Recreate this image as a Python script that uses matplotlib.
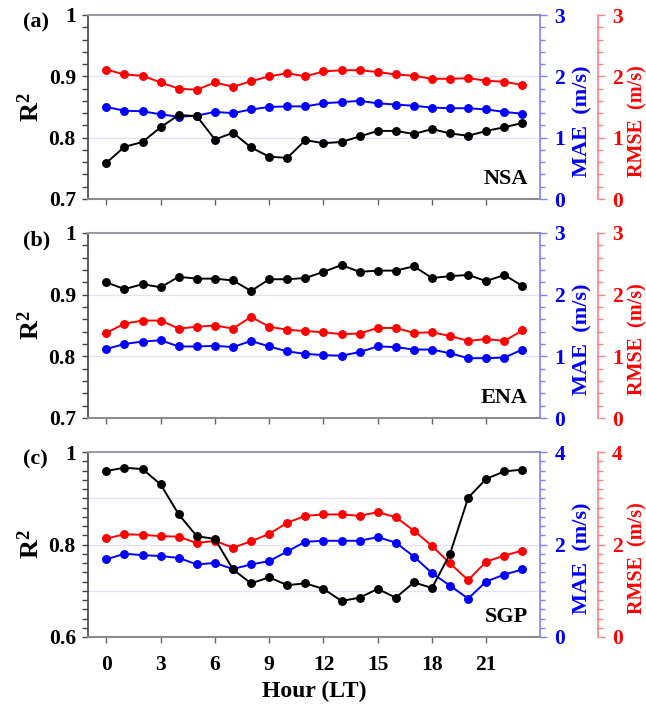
import matplotlib
matplotlib.use("Agg")
import matplotlib.pyplot as plt
from matplotlib.ticker import MultipleLocator

plt.rcParams['font.family'] = ['Liberation Serif', 'DejaVu Serif']
plt.rcParams['font.weight'] = 'bold'
plt.rcParams['mathtext.fontset'] = 'custom'
plt.rcParams['mathtext.rm'] = 'Liberation Serif:bold'
plt.rcParams['mathtext.it'] = 'Liberation Serif:bold'
plt.rcParams['mathtext.bf'] = 'Liberation Serif:bold'

hours = list(range(24))

nsa_r2 = [0.759, 0.785, 0.793, 0.817, 0.837, 0.835, 0.797, 0.808, 0.784, 0.769, 0.767, 0.796,
          0.791, 0.793, 0.802, 0.811, 0.811, 0.806, 0.814, 0.807, 0.803, 0.811, 0.817, 0.824]
nsa_mae = [1.50, 1.44, 1.43, 1.38, 1.34, 1.36, 1.42, 1.40, 1.46, 1.50, 1.51, 1.51,
           1.56, 1.58, 1.60, 1.56, 1.54, 1.52, 1.49, 1.48, 1.48, 1.46, 1.42, 1.39]
nsa_rmse = [2.11, 2.03, 2.01, 1.90, 1.80, 1.78, 1.90, 1.83, 1.92, 2.00, 2.05, 2.00,
            2.08, 2.10, 2.10, 2.07, 2.03, 2.01, 1.96, 1.96, 1.97, 1.93, 1.91, 1.86]

ena_r2 = [0.920, 0.909, 0.917, 0.912, 0.929, 0.926, 0.926, 0.923, 0.906, 0.925, 0.925, 0.927,
          0.937, 0.948, 0.937, 0.939, 0.939, 0.946, 0.927, 0.930, 0.932, 0.922, 0.932, 0.914]
ena_mae = [1.12, 1.20, 1.24, 1.26, 1.16, 1.16, 1.17, 1.15, 1.25, 1.16, 1.08, 1.04,
           1.02, 1.01, 1.07, 1.16, 1.15, 1.11, 1.11, 1.05, 0.97, 0.97, 0.98, 1.11]
ena_rmse = [1.38, 1.53, 1.58, 1.58, 1.45, 1.48, 1.50, 1.45, 1.64, 1.48, 1.43, 1.41,
            1.39, 1.36, 1.37, 1.46, 1.46, 1.38, 1.39, 1.33, 1.25, 1.28, 1.25, 1.42]

sgp_r2 = [0.959, 0.966, 0.963, 0.930, 0.865, 0.818, 0.812, 0.746, 0.716, 0.729, 0.712, 0.716,
          0.704, 0.678, 0.685, 0.704, 0.685, 0.718, 0.706, 0.780, 0.901, 0.942, 0.958, 0.962]
sgp_mae = [1.68, 1.80, 1.77, 1.75, 1.71, 1.57, 1.60, 1.47, 1.57, 1.64, 1.85, 2.06,
           2.08, 2.08, 2.08, 2.16, 2.04, 1.74, 1.38, 1.11, 0.83, 1.20, 1.35, 1.46]
sgp_rmse = [2.13, 2.22, 2.21, 2.18, 2.17, 2.03, 2.08, 1.93, 2.07, 2.23, 2.47, 2.62,
            2.65, 2.65, 2.62, 2.70, 2.59, 2.30, 1.97, 1.59, 1.23, 1.63, 1.76, 1.87]

panel_tags = ['(a)', '(b)', '(c)']
sites = ['NSA', 'ENA', 'SGP']
r2_data = [nsa_r2, ena_r2, sgp_r2]
mae_data = [nsa_mae, ena_mae, sgp_mae]
rmse_data = [nsa_rmse, ena_rmse, sgp_rmse]
r2_ticks = [[0.7, 0.8, 0.9, 1.0], [0.7, 0.8, 0.9, 1.0], [0.6, 0.8, 1.0]]
r2_ticklabels = [['0.7', '0.8', '0.9', '1'], ['0.7', '0.8', '0.9', '1'], ['0.6', '0.8', '1']]
r2_grid = [[0.8, 0.9], [0.8, 0.9], [0.7, 0.8, 0.9]]
err_max = [3, 3, 4]
err_ticks = [[0, 1, 2, 3], [0, 1, 2, 3], [0, 2, 4]]
x_ticks = [0, 3, 6, 9, 12, 15, 18, 21]

W, H = 646, 705
fig = plt.figure(figsize=(W / 100, H / 100), dpi=100)

# panel boxes in pixels: top, bottom
boxes = [(15, 199), (233, 418), (452, 637)]
left_px, right_px = 88.3, 540.5

blue = '#0000ff'
red = '#ff0000'
lblue = '#8080ff'
lred = '#ff8080'

for i in range(3):
    top, bot = boxes[i]
    ax = fig.add_axes([left_px / W, 1 - bot / H, (right_px - left_px) / W, (bot - top) / H])
    lo = 1.0 - err_max[i] / 10
    ax.set_xlim(-1, 24)
    ax.set_ylim(lo, 1.0)
    for g in r2_grid[i]:
        ax.axhline(g, color='#e0e0ff', lw=0.9, zorder=0)

    ax2 = ax.twinx()
    ax3 = ax.twinx()
    ax2.set_ylim(0, err_max[i])
    ax3.set_ylim(0, err_max[i])

    ax3.plot(hours, rmse_data[i], '-o', color=red, lw=1.4, ms=5.4)
    ax2.plot(hours, mae_data[i], '-o', color=blue, lw=1.4, ms=5.4)
    # R2 drawn last so it sits on top
    ax4 = ax.twinx()
    ax4.set_ylim(lo, 1.0)
    ax4.plot(hours, r2_data[i], '-o', color='black', lw=1.4, ms=5.4)
    ax4.axis('off')

    # left axis
    ax.set_yticks(r2_ticks[i])
    ax.set_yticklabels(r2_ticklabels[i])
    ax.yaxis.set_minor_locator(MultipleLocator(0.02))
    ax.tick_params(axis='y', which='both', direction='out', length=4, width=1,
                   color='#444444', labelsize=15.5, pad=5)
    ax.set_xticks(x_ticks)
    ax.tick_params(axis='x', direction='out', length=4, width=1, color='#666666',
                   labelsize=15.5, pad=9)
    if i < 2:
        ax.set_xticklabels([])
    ax.spines['left'].set_color('#444444')
    ax.spines['left'].set_linewidth(1.2)
    ax.spines['top'].set_color('#9a9aa6')
    ax.spines['top'].set_linewidth(1.5)
    ax.spines['bottom'].set_color('#8c8c8c')
    ax.spines['bottom'].set_linewidth(1.5)
    ax.spines['right'].set_visible(False)

    # MAE axis
    for s in ['left', 'top', 'bottom']:
        ax2.spines[s].set_visible(False)
        ax3.spines[s].set_visible(False)
    ax2.spines['right'].set_color(lblue)
    ax2.spines['right'].set_linewidth(1.2)
    ax2.set_yticks(err_ticks[i])
    ax2.yaxis.set_minor_locator(MultipleLocator(0.2))
    ax2.tick_params(axis='y', which='major', length=5, width=1, color=lblue,
                    labelcolor=blue, labelsize=15.5, pad=5)
    ax2.tick_params(axis='y', which='minor', length=3.5, width=1, color=lblue)

    # RMSE axis
    ax3.spines['right'].set_position(('axes', 1.127))
    ax3.spines['right'].set_color(lred)
    ax3.spines['right'].set_linewidth(1.2)
    ax3.set_yticks(err_ticks[i])
    ax3.yaxis.set_minor_locator(MultipleLocator(0.2))
    ax3.tick_params(axis='y', which='major', length=5, width=1, color=lred,
                    labelcolor=red, labelsize=15.5, pad=5)
    ax3.tick_params(axis='y', which='minor', length=3.5, width=1, color=lred)

    ax.text(0.972, 0.055, sites[i], transform=ax.transAxes, ha='right', va='bottom',
            fontsize=16, fontweight='bold')

    mid = (top + bot) / 2
    fig.text(23 / W, 1 - (top + 7) / H, panel_tags[i], ha='left', va='center',
             fontsize=16, fontweight='bold')
    fig.text(31 / W, 1 - mid / H, r'R$^{2}$', rotation=90, ha='center', va='center',
             fontsize=19, fontweight='bold')
    fig.text(582 / W, 1 - (mid + 14) / H, 'MAE  (m/s)', rotation=90, ha='center',
             va='center', fontsize=16, fontweight='bold', color=blue)
    fig.text(637 / W, 1 - (mid + 14) / H, 'RMSE  (m/s)', rotation=90, ha='center',
             va='center', fontsize=14.5, fontweight='bold', color=red)

fig.text(314 / W, 1 - 691 / H, 'Hour (LT)', ha='center', va='center', fontsize=17,
         fontweight='bold')

fig.savefig('out.png', dpi=100)
